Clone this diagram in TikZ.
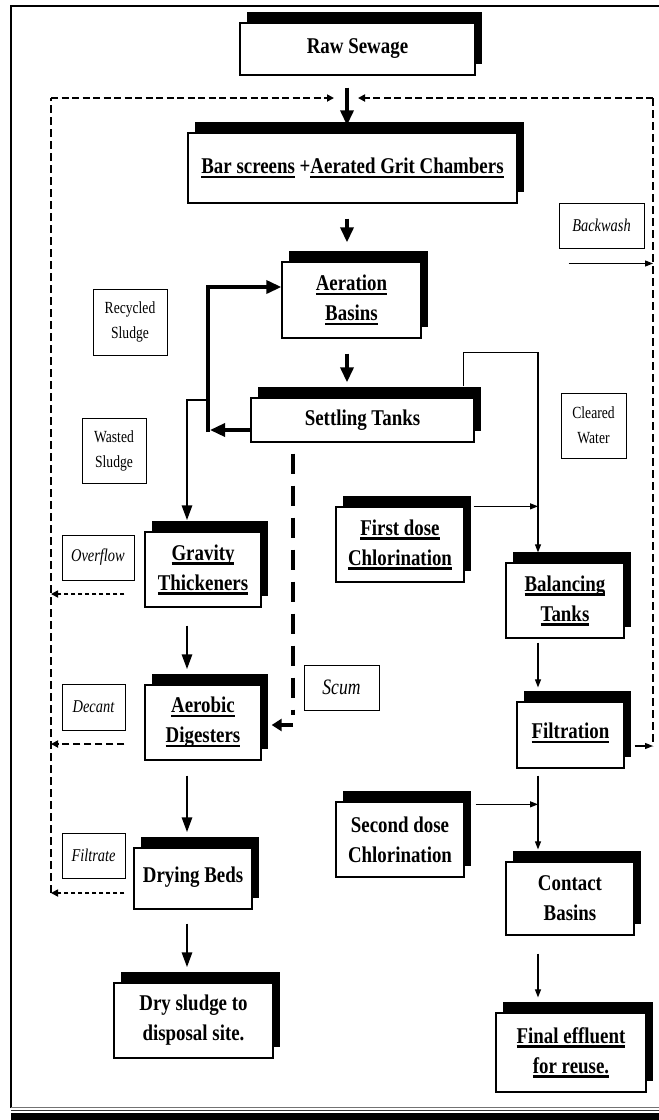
\documentclass[tikz,border=0pt]{standalone}
\usepackage{fontspec}
\setmainfont{Liberation Serif}
\newfontfamily\cfont{Liberation Serif}[FakeStretch=0.84]
\newfontfamily\lfont{Liberation Serif}[FakeStretch=0.8]
\usetikzlibrary{arrows.meta,shadows,calc}
\newcommand\myul[1]{\setbox0=\hbox{#1}\rlap{\rule[-4.5pt]{\wd0}{2.2pt}}\box0\relax}
\begin{document}
\begin{tikzpicture}[x=1pt,y=-1pt,
  pbox/.style={draw, line width=1.3pt, fill=white, inner sep=0pt, align=center,
    font=\cfont\bfseries\fontsize{22.5}{30}\selectfont,
    drop shadow={shadow xshift=7pt, shadow yshift=11pt, opacity=1, fill=black}},
  lbox/.style={draw, line width=1pt, fill=white, inner sep=0pt, align=center,
    font=\lfont\fontsize{17}{25}\selectfont},
  ibox/.style={lbox, font=\lfont\itshape\fontsize{18}{25}\selectfont},
  tarrow/.style={line width=3.4pt, -{Triangle[length=15pt,width=13pt]}},
  sarrow/.style={line width=2.8pt, -{Triangle[length=15pt,width=10pt]}},
  nline/.style={line width=1.1pt},
  narrow/.style={line width=1.1pt, -{Triangle[length=8pt,width=6pt]}},
  hdash/.style={line width=2.2pt, dash pattern=on 7pt off 3.5pt, -{Triangle[length=7pt,width=7pt]}},
  vdash/.style={line width=1.1pt, dash pattern=on 8pt off 4pt},
  sdash/.style={line width=1.6pt, dash pattern=on 4pt off 3pt, -{Triangle[length=7pt,width=7pt]}},
  ddash/.style={line width=2pt, dash pattern=on 7pt off 4pt, -{Triangle[length=7pt,width=7pt]}},
  scumdash/.style={line width=3.4pt, dash pattern=on 20pt off 12pt},
]
\useasboundingbox (0,0) rectangle (659,1120);
% frame
\draw[line width=2pt] (11,1108) -- (11,6) -- (659,6);
\draw[black!55, line width=1pt] (11,1107.5) -- (659,1107.5);
\draw[black!80, line width=1pt] (11,1110.5) -- (659,1110.5);
\fill (11,1113) rectangle (659,1120);

% guide coordinates
\coordinate (spine) at (347,0);
\coordinate (colL) at (187,0);
\coordinate (Rv) at (208,0);
\coordinate (Cx) at (538,0);
\coordinate (Sx) at (293,0);
\coordinate (Ltop) at (51,98);
\coordinate (Rtop) at (653,98);

% process boxes
\node[pbox, minimum width=235pt, minimum height=52pt] (raw) at (357.5,49) {Raw Sewage};
\node[pbox, minimum width=329pt, minimum height=70pt] (bar) at (352.5,168) {\myul{Bar screens} +\myul{Aerated Grit Chambers}};
\node[pbox, minimum width=139pt, minimum height=76pt] (aer) at (351.5,300) {\myul{Aeration}\\\myul{Basins}};
\node[pbox, minimum width=223pt, minimum height=44pt] (set) at (362.5,420) {Settling Tanks};
\node[pbox, minimum width=116pt, minimum height=75pt] (grav) at (203,569.5) {\myul{Gravity}\\\myul{Thickeners}};
\node[pbox, minimum width=128pt, minimum height=75pt] (first) at (400,544.5) {\myul{First dose}\\\myul{Chlorination}};
\node[pbox, minimum width=118pt, minimum height=75pt] (bal) at (565,600.5) {\myul{Balancing}\\\myul{Tanks}};
\node[pbox, minimum width=116pt, minimum height=75pt] (aero) at (203,722.5) {\myul{Aerobic}\\\myul{Digesters}};
\node[pbox, minimum width=107pt, minimum height=66pt] (filt) at (570.5,735) {\raisebox{8pt}{\myul{Filtration}}};
\node[pbox, minimum width=128pt, minimum height=75pt] (second) at (400,839.5) {Second dose\\Chlorination};
\node[pbox, minimum width=128pt, minimum height=73pt] (contact) at (570,898.5) {Contact\\Basins};
\node[pbox, minimum width=118pt, minimum height=61pt] (drying) at (193,878.5) {\raisebox{8pt}{Drying Beds}};
\node[pbox, minimum width=159pt, minimum height=75pt] (dry) at (193.5,1020.5) {Dry sludge to\\disposal site.};
\node[pbox, minimum width=150pt, minimum height=79pt] (final) at (571,1052.5) {\myul{Final effluent}\\\myul{for reuse.}};

% label boxes
\node[ibox, minimum width=85pt, minimum height=45pt] (backwash) at (601.5,225.5) {Backwash};
\node[lbox, minimum width=74pt, minimum height=66pt] (recyc) at (130,322) {Recycled\\Sludge};
\node[lbox, minimum width=64pt, minimum height=65pt] (wasted) at (114,450.5) {Wasted\\Sludge};
\node[lbox, minimum width=65pt, minimum height=65pt] (cleared) at (593.5,425.5) {Cleared\\Water};
\node[ibox, minimum width=72pt, minimum height=45pt] (overflow) at (98,557.5) {Overflow};
\node[ibox, minimum width=75pt, minimum height=45pt, font=\lfont\itshape\fontsize{22}{24}\selectfont] (scum) at (341.5,687.5) {Scum};
\node[ibox, minimum width=63pt, minimum height=46pt] (decant) at (93.5,707) {Decant};
\node[ibox, minimum width=63pt, minimum height=45pt] (filtrate) at (93.5,855.5) {Filtrate};

% main flow
\draw[tarrow] ($(raw.south -| spine)+(0,12)$) -- ($(bar.north -| spine)+(0,-7)$);
\draw[tarrow] ($(bar.south -| spine)+(0,15)$) -- ($(aer.north -| spine)+(0,-19)$);
\draw[tarrow] ($(aer.south -| spine)+(0,15)$) -- ($(set.north -| spine)+(0,-15)$);

% recycled sludge loop
\draw[tarrow] ($(set.west)+(0,10)$) -- ($(set.west -| Rv)+(2,10)$);
\draw[tarrow] ($(set.west -| Rv)+(0,12)$) -- ($(aer.west -| Rv)+(0,-13)$) -- ($(aer.west)+(0,-13)$);

% wasted sludge and sludge line
\draw[sarrow] ($(set.west -| Rv)+(0,-20)$) -- ($(set.west -| colL)+(0,-20)$) -- ($(grav.north -| colL)+(0,-11)$);
\draw[sarrow] ($(grav.south -| colL)+(0,18)$) -- ($(aero.north -| colL)+(0,-15)$);
\draw[sarrow] ($(aero.south -| colL)+(0,15)$) -- ($(drying.north -| colL)+(0,-15)$);
\draw[sarrow] ($(drying.south -| colL)+(0,14)$) -- ($(dry.north -| colL)+(0,-15)$);

% scum
\draw[scumdash] ($(set.south -| Sx)+(0,11)$) -- ($(aero.east -| Sx)+(0,-7.5)$);
\draw[line width=3.6pt, -{Triangle[length=10pt,width=12pt]}] ($(aero.east -| Sx)+(0,2.5)$) -- ($(aero.east)+(10,2.5)$);

% returns to the head of works
\draw[sdash] ($(grav.west)+(-20,24.5)$) -- ($(grav.west -| Ltop)+(0,24.5)$);
\draw[ddash] ($(aero.west)+(-20,21.5)$) -- ($(aero.west -| Ltop)+(0,21.5)$);
\draw[sdash] ($(drying.west)+(-9,14.5)$) -- ($(drying.west -| Ltop)+(0,14.5)$);
\draw[vdash] ($(drying.west -| Ltop)+(0,14.5)$) -- (Ltop);
\draw[hdash] (Ltop) -- ($(Ltop -| spine)+(-13,0)$);
\draw[hdash] (Rtop) -- ($(Rtop -| spine)+(11,0)$);
\draw[vdash] (Rtop) -- ($(filt.east -| Rtop)+(0,11)$);
\draw[narrow] ($(backwash.south west)+(10,15)$) -- ($(backwash.south -| Rtop)+(0,15)$);
\draw[narrow] ($(filt.east)+(10,11)$) -- ($(filt.east -| Rtop)+(0,11)$);

% water line
\draw[narrow] ($(set.north east)+(-11,-11)$) -- ($(set.north east)+(-11,-45)$) -- ($(set.north east -| Cx)+(0,-45)$) -- ($(bal.north -| Cx)+(0,-10)$);
\draw[narrow] ($(first.north east)+(9,0)$) -- (first.north east -| Cx);
\draw[narrow] ($(bal.south -| Cx)+(0,4)$) -- ($(filt.north -| Cx)+(0,-14)$);
\draw[narrow] ($(filt.south -| Cx)+(0,7)$) -- ($(contact.north -| Cx)+(0,-12)$);
\draw[narrow] ($(second.north east)+(11,3)$) -- ($(second.north east -| Cx)+(0,3)$);
\draw[narrow] ($(contact.south -| Cx)+(0,18)$) -- ($(final.north -| Cx)+(0,-15)$);
\end{tikzpicture}
\end{document}
